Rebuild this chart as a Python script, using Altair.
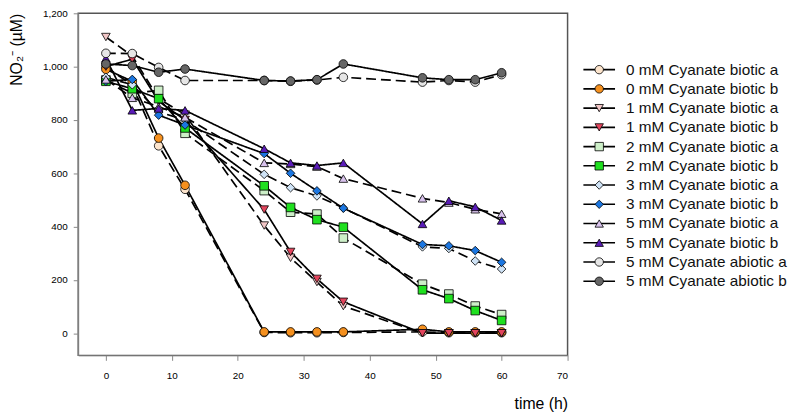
import altair as alt
import pandas as pd

times = [0, 4, 8, 12, 24, 28, 32, 36, 48, 52, 56, 60]

series_names = [
    "0 mM Cyanate biotic a", "0 mM Cyanate biotic b",
    "1 mM Cyanate biotic a", "1 mM Cyanate biotic b",
    "2 mM Cyanate biotic a", "2 mM Cyanate biotic b",
    "3 mM Cyanate biotic a", "3 mM Cyanate biotic b",
    "5 mM Cyanate biotic a", "5 mM Cyanate biotic b",
    "5 mM Cyanate abiotic a", "5 mM Cyanate abiotic b",
]

c0a = [1000, 930, 703, 540, 3, 2, 2, 3, 5, 2, 2, 2]
c0b = [990, 945, 732, 555, 5, 5, 5, 5, 15, 5, 5, 5]
c1a = [1111, 1040, 880, 820, 404, 283, 192, 102, 0, 0, 0, 0]
c1b = [1000, 1028, 870, 800, 464, 305, 204, 118, 0, 0, 0, 0]
c2a = [950, 900, 911, 750, 535, 454, 447, 357, 184, 147, 102, 70]
c2b = [945, 917, 880, 770, 553, 472, 426, 398, 163, 130, 85, 48]
c3a = [960, 932, 830, 800, 596, 546, 515, 470, 324, 318, 271, 241]
c3b = [945, 952, 818, 781, 674, 600, 534, 469, 333, 328, 310, 266]
c5a = [952, 883, 850, 810, 639, 635, 625, 580, 506, 490, 465, 448]
c5b = [1031, 836, 843, 836, 692, 639, 629, 639, 410, 497, 474, 423]
abio_a = [1050, 1049, 997, 948, 948, 945, 950, 960, 942, 948, 942, 970]
abio_b = [1010, 1004, 979, 991, 948, 946, 951, 1010, 958, 951, 951, 977]

all_values = [c0a, c0b, c1a, c1b, c2a, c2b, c3a, c3b, c5a, c5b, abio_a, abio_b]

fills = ["#FCE4CC", "#F5901E", "#F2C6C6", "#E2445C", "#CDEFC8", "#1FE01F",
         "#CFE3F6", "#1B76E0", "#D8C2EC", "#5A1CB8", "#E6E6E6", "#666666"]
shapes = ["circle", "circle", "triangle-down", "triangle-down", "square", "square",
          "diamond", "diamond", "triangle-up", "triangle-up", "circle", "circle"]
dashes = [[10, 5] if n.endswith(" a") else [1, 0] for n in series_names]

rows = []
for name, vals in zip(series_names, all_values):
    for t, v in zip(times, vals):
        rows.append({"series": name, "time": t, "no2": v})
df = pd.DataFrame(rows)
legend_df = pd.DataFrame({"series": series_names})

FONT = "Liberation Sans"

fill_scale = alt.Scale(domain=series_names, range=fills)
shape_scale = alt.Scale(domain=series_names, range=shapes)

x_enc = alt.X("time:Q", scale=alt.Scale(domain=[-4.2, 70], nice=False, zero=False),
              axis=alt.Axis(values=list(range(0, 71, 10)), title="time (h)", grid=False,
                            titleAnchor="end", titleAlign="right", titleY=41,
                            titleBaseline="top", titleFontSize=16,
                            titleFontWeight="normal", labelPadding=10))
y_enc = alt.Y("no2:Q", scale=alt.Scale(domain=[-83, 1200], nice=False, zero=False),
              axis=alt.Axis(values=list(range(0, 1201, 200)), format=",d", grid=False,
                            title="NO₂⁻ (µM)", titleAnchor="end", titleFontSize=16,
                            titleFontWeight="normal", titlePadding=18, labelPadding=6))

base = alt.Chart(df)

lines = base.mark_line(color="black", strokeWidth=1.7).encode(
    x=x_enc, y=y_enc,
    detail="series:N",
    strokeDash=alt.StrokeDash("series:N", scale=alt.Scale(domain=series_names, range=dashes),
                              legend=None),
    order="time:Q",
)

points = base.mark_point(filled=True, size=76, stroke="black", strokeWidth=0.8,
                         opacity=1).encode(
    x=x_enc, y=y_enc,
    fill=alt.Fill("series:N", scale=fill_scale, legend=None),
    shape=alt.Shape("series:N", scale=shape_scale, legend=None),
)

main = alt.layer(lines, points).properties(
    width=495, height=346,
    view=alt.ViewBackground(stroke="#555", strokeWidth=1.5),
)

# legend drawn as its own small panel
ly = alt.Y("series:N", sort=series_names, axis=None,
           scale=alt.Scale(type="point", domain=series_names, range=[57, 271], padding=0))
lbase = alt.Chart(legend_df)
leg_rule = lbase.mark_rule(color="black", strokeWidth=1.6).encode(
    y=ly, x=alt.value(0), x2=alt.value(32))
leg_pt = lbase.mark_point(filled=True, size=72, stroke="black", strokeWidth=0.8,
                          opacity=1).encode(
    y=ly, x=alt.value(16),
    fill=alt.Fill("series:N", scale=fill_scale, legend=None),
    shape=alt.Shape("series:N", scale=shape_scale, legend=None),
)
leg_txt = lbase.mark_text(align="left", baseline="middle", font=FONT, fontSize=15.5,
                          color="#111").encode(
    y=ly, x=alt.value(43), text="series:N")
legend_panel = alt.layer(leg_rule, leg_pt, leg_txt).properties(
    width=200, height=346,
    view=alt.ViewBackground(strokeWidth=0, stroke="transparent"),
)

chart = alt.hconcat(main, legend_panel, spacing=13).resolve_scale(
    fill="independent", shape="independent"
).properties(padding={"left": 0, "top": -3, "right": 5, "bottom": 5}
).configure_view(strokeWidth=0
).configure_axis(domain=False, ticks=True, tickColor="#555", tickSize=5, tickWidth=1.5,
                 grid=False, labelFont=FONT, titleFont=FONT, labelFontSize=12.5,
                 labelColor="#444", titleColor="#333"
).configure(background="white")

chart.save("out.html", embed_options={"renderer": "svg", "actions": False})
